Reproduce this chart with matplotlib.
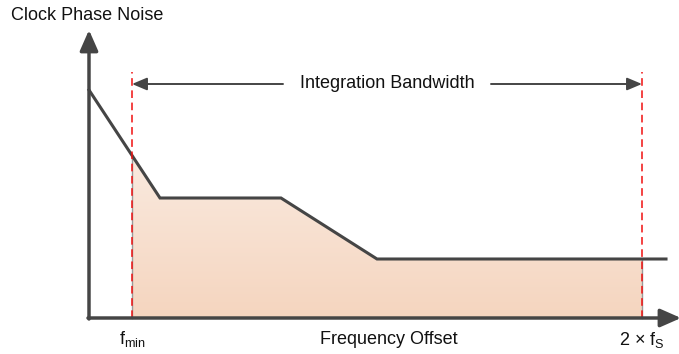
import matplotlib
matplotlib.use("Agg")
import matplotlib.pyplot as plt
import numpy as np
from matplotlib.colors import LinearSegmentedColormap
from matplotlib.patches import Polygon

plt.rcParams["font.family"] = ["Liberation Sans", "DejaVu Sans"]
plt.rcParams["mathtext.fontset"] = "custom"
plt.rcParams["mathtext.rm"] = "Liberation Sans"
plt.rcParams["mathtext.it"] = "Liberation Sans"

# phase noise profile (arbitrary units, origin at the axes corner)
freq = [0, 71, 192, 288, 577]
noise = [228, 120, 120, 59, 59]

f_min = 43
f_max = 553

y_label = "Clock Phase Noise"
x_label = "Frequency Offset"
band_label = "Integration Bandwidth"
f_min_label = r"$\mathregular{f_{min}}$"
f_max_label = r"$\mathregular{2\ ×\ f_S}$"

line_col = "#454545"
red = "#F01010"

fig = plt.figure(figsize=(6.79, 3.54), dpi=100)
ax = fig.add_axes([0, 0, 1, 1])
ax.set_xlim(-89, 590)
ax.set_ylim(-36, 318)
ax.axis("off")

# shaded integration region with a soft vertical gradient
xs = [f_min] + [f for f in freq if f_min < f < f_max] + [f_max]
ys = list(np.interp(xs, freq, noise))
poly = Polygon(list(zip(xs, ys)) + [(f_max, 0), (f_min, 0)], closed=True,
               facecolor="none", edgecolor="none")
ax.add_patch(poly)
cmap = LinearSegmentedColormap.from_list("peach", ["#F5D5BF", "#FAEADF"])
grad = np.linspace(0, 1, 256).reshape(-1, 1)
im = ax.imshow(grad, cmap=cmap, extent=[f_min, f_max, 0, max(ys)],
               origin="lower", aspect="auto", zorder=1)
im.set_clip_path(poly)

# noise curve
ax.plot(freq, noise, color=line_col, lw=2.2, solid_joinstyle="miter", zorder=3)

# band limits
for f in (f_min, f_max):
    ax.plot([f, f], [0, np.interp(f, freq, noise)], color="#9a9a9a", lw=1.0, zorder=2)
    ax.plot([f, f], [0, 246], color=red, lw=1.1, dashes=(5, 3), zorder=4)

# axes with arrow heads
ax.annotate("", xy=(0, 288), xytext=(0, -1), annotation_clip=False,
            arrowprops=dict(arrowstyle="-|>,head_length=1.25,head_width=0.55",
                            color=line_col, lw=2.5, shrinkA=0, shrinkB=0), zorder=5)
ax.annotate("", xy=(592, 0), xytext=(-1, 0), annotation_clip=False,
            arrowprops=dict(arrowstyle="-|>,head_length=1.25,head_width=0.55",
                            color=line_col, lw=2.5, shrinkA=0, shrinkB=0), zorder=5)

# integration bandwidth marker
y_band = 234
ax.annotate("", xy=(f_min, y_band), xytext=(194, y_band),
            arrowprops=dict(arrowstyle="-|>,head_length=0.9,head_width=0.38",
                            color=line_col, lw=1.4, shrinkA=0, shrinkB=0))
ax.annotate("", xy=(f_max, y_band), xytext=(402, y_band),
            arrowprops=dict(arrowstyle="-|>,head_length=0.9,head_width=0.38",
                            color=line_col, lw=1.4, shrinkA=0, shrinkB=0))
ax.text((f_min + f_max) / 2, y_band, band_label, ha="center", va="center",
        fontsize=13, color="#111111")

# labels
ax.text(-78, 302, y_label, ha="left", va="center", fontsize=13, color="#111111")
ax.text(300, -21, x_label, ha="center", va="center", fontsize=13, color="#111111")
ax.text(f_min, -21, f_min_label, ha="center", va="center", fontsize=13, color="#111111")
ax.text(f_max, -22, f_max_label, ha="center", va="center", fontsize=13, color="#111111")

fig.savefig("out.png", dpi=100)
